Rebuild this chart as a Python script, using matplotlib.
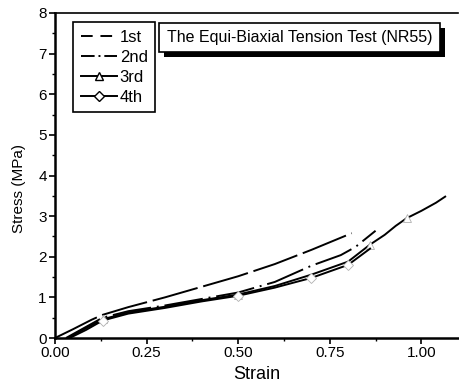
import matplotlib
matplotlib.use("Agg")
from matplotlib import pyplot as plt
from matplotlib.patches import Rectangle
from matplotlib.ticker import MultipleLocator, FormatStrFormatter

plt.rcParams['font.family'] = ['Liberation Sans', 'DejaVu Sans']

# loading curves (strain, stress in MPa)
strain_1st = [0.0, 0.05, 0.10, 0.13, 0.20, 0.30, 0.40, 0.50, 0.60, 0.70, 0.81]
stress_1st = [0.0, 0.22, 0.45, 0.57, 0.76, 1.00, 1.26, 1.52, 1.82, 2.17, 2.58]

strain_2nd = [0.03, 0.08, 0.13, 0.20, 0.30, 0.40, 0.50, 0.60, 0.70, 0.78, 0.82, 0.875]
stress_2nd = [0.0, 0.25, 0.50, 0.66, 0.80, 0.96, 1.12, 1.38, 1.78, 2.04, 2.24, 2.64]

strain_3rd = [0.035, 0.08, 0.13, 0.20, 0.30, 0.40, 0.50, 0.60, 0.70, 0.80, 0.86,
              0.90, 0.93, 0.96, 1.00, 1.04, 1.065]
stress_3rd = [0.0, 0.22, 0.46, 0.63, 0.77, 0.93, 1.07, 1.28, 1.56, 1.88, 2.30,
              2.54, 2.76, 2.95, 3.13, 3.33, 3.48]

strain_4th = [0.04, 0.085, 0.13, 0.20, 0.30, 0.40, 0.50, 0.60, 0.70, 0.80, 0.86]
stress_4th = [0.0, 0.20, 0.43, 0.60, 0.74, 0.90, 1.04, 1.24, 1.48, 1.80, 2.20]

labels = ["1st", "2nd", "3rd", "4th"]
title_text = "The Equi-Biaxial Tension Test (NR55)"

fig = plt.figure(figsize=(4.6, 3.9), dpi=100)
ax = fig.add_axes([55 / 460, 52 / 390, (458 - 55) / 460, (338 - 13) / 390])

lw = 1.4
ax.plot(strain_1st, stress_1st, color="black", lw=lw, ls=(0, (24, 3)), label=labels[0])
ax.plot(strain_2nd, stress_2nd, color="black", lw=lw, ls=(0, (20, 3, 1, 3)), label=labels[1])
ax.plot(strain_3rd, stress_3rd, color="black", lw=lw, marker="^", markevery=[2, 6, 10, 13],
        markerfacecolor="white", markeredgecolor="#b0b0b0", markeredgewidth=0.6, markersize=6,
        label=labels[2])
ax.plot(strain_4th, stress_4th, color="black", lw=lw, marker="D", markevery=[2, 6, 8, 9],
        markerfacecolor="white", markeredgecolor="#b0b0b0", markeredgewidth=0.6, markersize=5,
        label=labels[3])

ax.set_xlim(0, 1.1)
ax.set_ylim(0, 8)
ax.xaxis.set_major_locator(MultipleLocator(0.25))
ax.xaxis.set_minor_locator(MultipleLocator(0.125))
ax.yaxis.set_major_locator(MultipleLocator(1))
ax.yaxis.set_minor_locator(MultipleLocator(0.5))
ax.xaxis.set_major_formatter(FormatStrFormatter("%.2f"))
ax.tick_params(which="major", direction="out", length=4, width=1.2, labelsize=11, pad=2)
ax.tick_params(which="minor", direction="out", length=2.5, width=1)

for s in ["left", "bottom"]:
    ax.spines[s].set_linewidth(1.8)
ax.spines["top"].set_linewidth(1.2)
ax.spines["right"].set_visible(False)

ax.set_xlabel("Strain", fontsize=13, labelpad=4)
ax.set_ylabel("Stress (MPa)", fontsize=11)
ax.yaxis.set_label_coords(-0.072, 0.46)

leg = ax.legend(loc="upper left", bbox_to_anchor=(0.045, 0.972), borderaxespad=0,
                fontsize=12, handlelength=2.2, handletextpad=0.15, labelspacing=0.3,
                borderpad=0.45, fancybox=False, framealpha=1)
leg.get_frame().set_edgecolor("black")
leg.get_frame().set_linewidth(1.2)
hs = leg.legend_handles
hs[0].set_linestyle((0, (6, 4)))
hs[1].set_linestyle((0, (7, 2, 1, 2)))
for h in hs[2:]:
    h.set_markeredgecolor("black")
    h.set_markeredgewidth(1.0)

# boxed title with drop shadow
bx, by, bw, bh = (159 - 55) / 403, (338 - 52) / 325, 281 / 403, 29 / 325
ax.add_patch(Rectangle((bx + 5 / 403, by - 5 / 325), bw, bh, transform=ax.transAxes,
                       facecolor="black", edgecolor="none", zorder=5, clip_on=False))
ax.add_patch(Rectangle((bx, by), bw, bh, transform=ax.transAxes,
                       facecolor="white", edgecolor="black", lw=1.2, zorder=6, clip_on=False))
ax.text(bx + bw / 2, by + bh / 2, title_text, transform=ax.transAxes, ha="center", va="center",
        fontsize=11.5, zorder=7)

fig.savefig("out.png", dpi=100)
